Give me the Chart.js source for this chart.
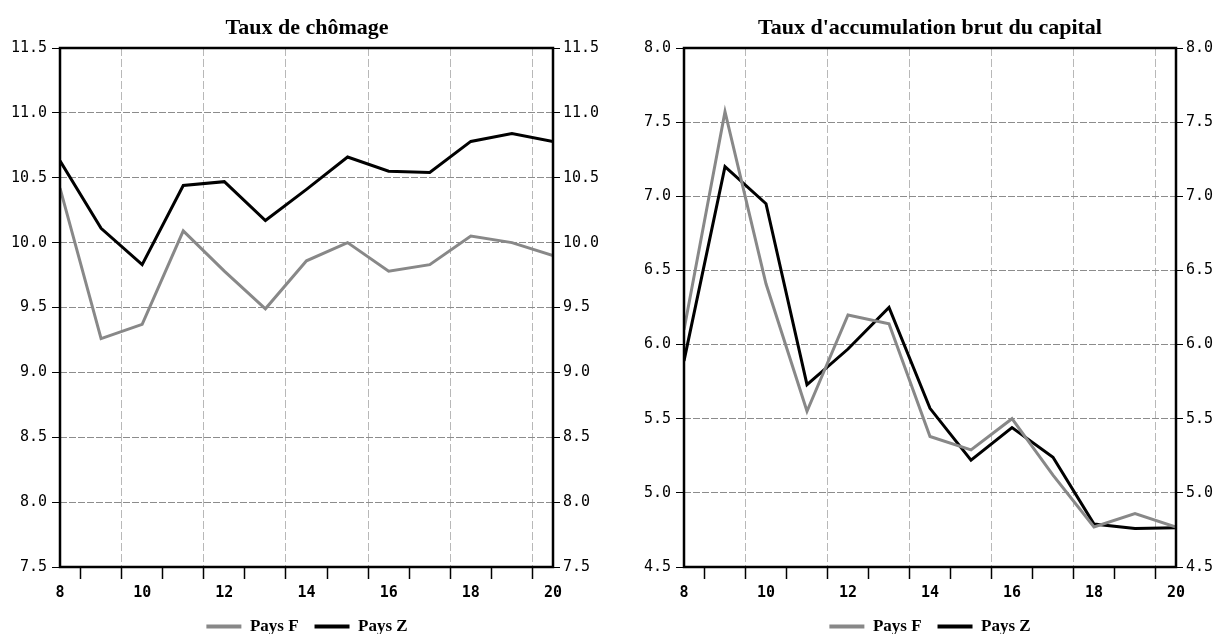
<!DOCTYPE html>
<html>
<head>
<meta charset="utf-8">
<script src="https://cdn.jsdelivr.net/npm/chart.js@4.4.0/dist/chart.umd.min.js"></script>
<style>
html,body{margin:0;padding:0;background:#fff;}
#wrap{position:relative;width:1228px;height:634px;overflow:hidden;}
.cell{position:absolute;top:0;width:614px;height:634px;}
</style>
</head>
<body>
<div id="wrap">
  <div class="cell" style="left:0"><canvas id="c1"></canvas></div>
  <div class="cell" style="left:614px"><canvas id="c2"></canvas></div>
</div>
<script>
// ---- data ----
const years = [8, 9, 10, 11, 12, 13, 14, 15, 16, 17, 18, 19, 20];
const xTickLabels = [8, 10, 12, 14, 16, 18, 20];
const xGridMarks = [8.5, 9.5, 10.5, 11.5, 12.5, 13.5, 14.5, 15.5, 16.5, 17.5, 18.5, 19.5];
const seriesNames = ['Pays F', 'Pays Z'];

const chomageTitle = 'Taux de chômage';
const chomageF = [10.42, 9.26, 9.37, 10.09, 9.78, 9.49, 9.86, 10.00, 9.78, 9.83, 10.05, 10.00, 9.90];
const chomageZ = [10.63, 10.11, 9.83, 10.44, 10.47, 10.17, 10.41, 10.66, 10.55, 10.54, 10.78, 10.84, 10.78];
const chomageYTicks = [7.5, 8.0, 8.5, 9.0, 9.5, 10.0, 10.5, 11.0, 11.5];

const capitalTitle = "Taux d'accumulation brut du capital";
const capitalF = [6.10, 7.57, 6.41, 5.55, 6.20, 6.14, 5.38, 5.29, 5.50, 5.12, 4.77, 4.86, 4.77];
const capitalZ = [5.89, 7.20, 6.95, 5.73, 5.97, 6.25, 5.57, 5.22, 5.44, 5.24, 4.79, 4.76, 4.765];
const capitalYTicks = [4.5, 5.0, 5.5, 6.0, 6.5, 7.0, 7.5, 8.0];

const colorF = '#888888';
const colorZ = '#000000';

const frame = {
  id: 'frame',
  afterDatasetsDraw(chart) {
    const a = chart.chartArea, ctx = chart.ctx;
    ctx.save();
    ctx.strokeStyle = '#000';
    ctx.lineWidth = 2.5;
    ctx.setLineDash([]);
    ctx.strokeRect(a.left, a.top, a.right - a.left, a.bottom - a.top);
    ctx.restore();
  }
};

function makeChart(id, title, fVals, zVals, yTicks, geom) {
  const tickFont = {family: 'DejaVu Sans Mono', size: 15};
  const yMin = yTicks[0], yMax = yTicks[yTicks.length - 1];
  const mk = (vals) => years.map((x, i) => ({x: x, y: vals[i]}));
  const yAxis = (pos, width, onArea, pad, tlen) => ({
    type: 'linear', position: pos, min: yMin, max: yMax,
    afterBuildTicks: s => { s.ticks = yTicks.map(v => ({value: v})); },
    afterFit: s => { s.width = width; },
    ticks: {callback: v => Number(v).toFixed(1), font: tickFont, color: '#000', padding: pad},
    grid: {drawOnChartArea: onArea, color: '#8c8c8c', lineWidth: 1, tickColor: '#000', tickLength: tlen, tickWidth: 1, tickBorderDash: []},
    border: {display: false, dash: [7, 2]}
  });
  return new Chart(document.getElementById(id), {
    type: 'line',
    data: {
      datasets: [
        {label: seriesNames[0], data: mk(fVals), borderColor: colorF, backgroundColor: colorF, borderWidth: 3, pointRadius: 0, tension: 0},
        {label: seriesNames[1], data: mk(zVals), borderColor: colorZ, backgroundColor: colorZ, borderWidth: 3, pointRadius: 0, tension: 0}
      ]
    },
    options: {
      responsive: true, maintainAspectRatio: false, animation: false,
      layout: {padding: {left: geom.padLeft, right: 0, top: 0, bottom: -11}},
      plugins: {
        title: {display: true, text: title, color: '#000',
          font: {family: 'Liberation Serif', size: 22, weight: 'bold', lineHeight: 1},
          padding: {top: 17, bottom: 9}},
        legend: {position: 'bottom',
          labels: {boxWidth: 35, boxHeight: 4, padding: 16, color: '#000',
            font: {family: 'Liberation Serif', size: 17, weight: 'bold', lineHeight: 0.75},
            generateLabels: ch => Chart.defaults.plugins.legend.labels.generateLabels(ch)
              .map(it => Object.assign(it, {lineWidth: 0, fillStyle: it.strokeStyle}))}},
        tooltip: {enabled: false}
      },
      scales: {
        x2: {type: 'linear', position: 'bottom', min: 8, max: 20, weight: 0,
          afterBuildTicks: s => { s.ticks = xGridMarks.map(v => ({value: v})); },
          afterFit: s => { s.height = 12; },
          ticks: {display: false},
          grid: {color: c => (c.tick && Math.abs(((c.tick.value - 9.5) % 2)) < 1e-6) ? '#b8b8b8' : 'rgba(0,0,0,0)',
            lineWidth: 1, tickColor: '#000', tickLength: 12, tickWidth: 1.5, tickBorderDash: []},
          border: {display: false, dash: [8, 3]}},
        x: {type: 'linear', position: 'bottom', min: 8, max: 20, weight: 1,
          afterBuildTicks: s => { s.ticks = xTickLabels.map(v => ({value: v})); },
          afterFit: s => { s.height = 23; },
          ticks: {font: {family: 'DejaVu Sans Mono', size: 15, weight: 'bold'}, color: '#000', padding: 5, maxRotation: 0, autoSkip: false, callback: v => String(v)},
          grid: {display: false, drawTicks: false},
          border: {display: false}},
        y: yAxis('left', geom.yLeft, true, 5, 8),
        y2: yAxis('right', geom.yRight, false, 3, 7)
      }
    },
    plugins: [frame]
  });
}

makeChart('c1', chomageTitle, chomageF, chomageZ, chomageYTicks, {padLeft: 0, yLeft: 60, yRight: 61});
makeChart('c2', capitalTitle, capitalF, capitalZ, capitalYTicks, {padLeft: 18, yLeft: 52, yRight: 52});
</script>
</body>
</html>
